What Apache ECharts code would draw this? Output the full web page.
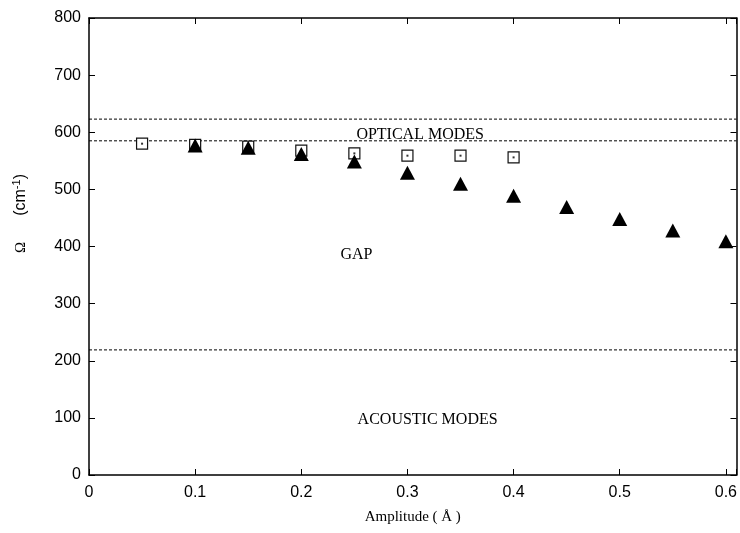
<!DOCTYPE html>
<html>
<head>
<meta charset="utf-8">
<script src="https://cdn.jsdelivr.net/npm/echarts@6/dist/echarts.min.js"></script>
<style>
html,body{margin:0;padding:0;background:#fff;}
#chart{width:740px;height:533px;}
</style>
</head>
<body>
<div id="chart"></div>
<script>
// Phonon frequencies vs. amplitude
const ampSquares = [0.05, 0.10, 0.15, 0.20, 0.25, 0.30, 0.35, 0.40];
const freqSquares = [580, 578, 575, 568, 563, 559, 559, 556];
const ampTriangles = [0.10, 0.15, 0.20, 0.25, 0.30, 0.35, 0.40, 0.45, 0.50, 0.55, 0.60];
const freqTriangles = [577, 573, 562, 549, 529, 510, 489, 469, 448, 428, 409];
// band edges (dashed)
const bandEdges = [623, 585, 219];
// region annotations
const regionNames = ['OPTICAL MODES', 'GAP', 'ACOUSTIC MODES'];
const regionX = [0.312, 0.252, 0.319];
const regionY = [596, 385, 96];

const xMin = 0, xMax = 0.61, yMin = 0, yMax = 800;

const sq = ampSquares.map((x, i) => [x, freqSquares[i]]);
const tri = ampTriangles.map((x, i) => [x, freqTriangles[i]]);

const tickFont = {fontFamily: 'Liberation Sans, Arial, sans-serif', fontSize: 16, color: '#000'};

const series = [];
bandEdges.forEach(v => {
  series.push({
    type: 'line', data: [[xMin, v], [xMax, v]], symbol: 'none', silent: true,
    lineStyle: {color: '#000', width: 1, type: [3, 2]}, z: 1
  });
});
series.push({
  type: 'scatter', data: sq, symbol: 'rect', symbolSize: 11,
  itemStyle: {color: '#fff', borderColor: '#111', borderWidth: 1.2, opacity: 1}, z: 2
});
series.push({
  type: 'scatter', data: sq, symbol: 'rect', symbolSize: 2,
  itemStyle: {color: '#333', opacity: 1}, z: 3
});
series.push({
  type: 'scatter', data: tri, symbol: 'triangle', symbolSize: [15, 14],
  itemStyle: {color: '#000', opacity: 1}, z: 4
});
series.push({
  type: 'scatter', symbolSize: 0, silent: true,
  itemStyle: {opacity: 1},
  data: regionNames.map((n, i) => ({name: n, value: [regionX[i], regionY[i]]})),
  label: {
    show: true, position: 'inside', formatter: p => p.name,
    fontFamily: 'Liberation Serif, Times New Roman, serif', fontSize: 16, color: '#000'
  }, z: 5
});

const chart = echarts.init(document.getElementById('chart'));
chart.setOption({
  animation: false,
  grid: {left: 89, right: 3, top: 18, bottom: 58},
  xAxis: [{
    type: 'value', min: xMin, max: xMax, interval: 0.1,
    axisLine: {onZero: false, lineStyle: {color: '#000', width: 1.5}},
    axisTick: {inside: true, length: 6, lineStyle: {color: '#000'}},
    splitLine: {show: false},
    axisLabel: Object.assign({margin: 10, formatter: v => (v > 0.605 ? '' : String(Math.round(v * 10) / 10))}, tickFont),
    name: 'Amplitude ( Å )', nameLocation: 'middle', nameGap: 35,
    nameTextStyle: {fontFamily: 'Liberation Serif, Times New Roman, serif', fontSize: 15, color: '#000'}
  }, {
    type: 'value', position: 'top', min: xMin, max: xMax, interval: 0.1,
    axisLine: {onZero: false, lineStyle: {color: '#000', width: 1.5}},
    axisTick: {inside: true, length: 6, lineStyle: {color: '#000'}},
    axisLabel: {show: false}, splitLine: {show: false}
  }],
  yAxis: [{
    type: 'value', min: yMin, max: yMax, interval: 100,
    axisLine: {onZero: false, lineStyle: {color: '#000', width: 1.5}},
    axisTick: {inside: true, length: 6, lineStyle: {color: '#000'}},
    splitLine: {show: false},
    axisLabel: Object.assign({margin: 8}, tickFont),
    name: '{a|Ω}{b|(cm}{s|-1}{b|)}', nameLocation: 'middle', nameGap: 58, nameRotate: 90,
    nameTextStyle: {
      padding: [0, 0, 0, 66],
      rich: {
        a: {fontFamily: 'Liberation Serif, serif', fontSize: 15, color: '#000', padding: [0, 26, 0, 0]},
        b: {fontFamily: 'Liberation Sans, sans-serif', fontSize: 16, color: '#000'},
        s: {fontFamily: 'Liberation Sans, sans-serif', fontSize: 11, color: '#000', verticalAlign: 'top', padding: [0, 0, 9, 0]}
      }
    }
  }, {
    type: 'value', position: 'right', min: yMin, max: yMax, interval: 100,
    axisLine: {onZero: false, lineStyle: {color: '#000', width: 1.5}},
    axisTick: {inside: true, length: 6, lineStyle: {color: '#000'}},
    axisLabel: {show: false}, splitLine: {show: false}
  }],
  series: series
});
</script>
</body>
</html>
